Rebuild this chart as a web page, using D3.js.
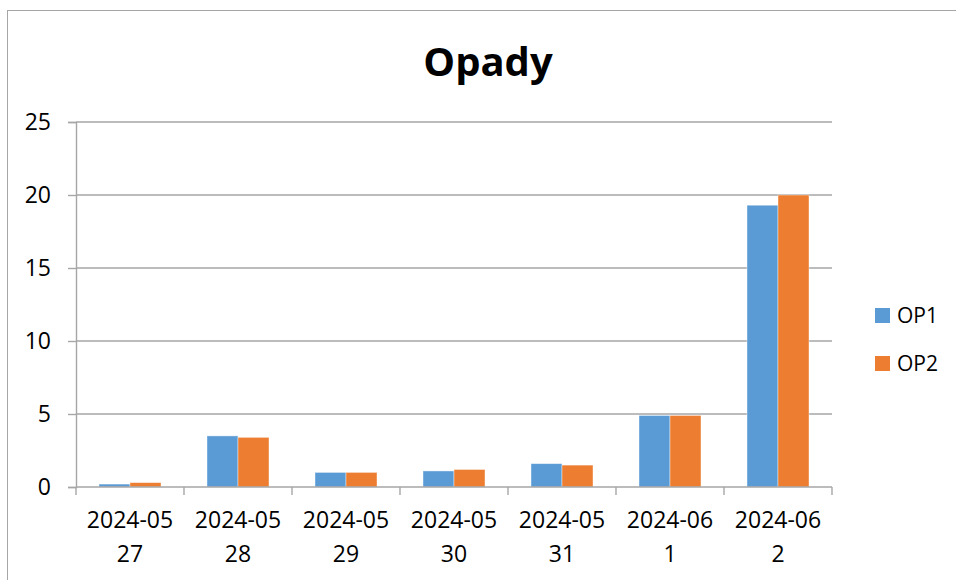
<!DOCTYPE html>
<html>
<head>
<meta charset="utf-8">
<script src="https://cdn.jsdelivr.net/npm/d3@7"></script>
<style>
  body { margin: 0; background: #fff; }
  svg { display: block; font-family: "Open Sans", "Noto Sans", sans-serif; }
</style>
</head>
<body>
<script>
// data
var categories = ["2024-05 27", "2024-05 28", "2024-05 29", "2024-05 30", "2024-05 31", "2024-06 1", "2024-06 2"];
var seriesNames = ["OP1", "OP2"];
var op1 = [0.2, 3.5, 1.0, 1.1, 1.6, 4.9, 19.3];
var op2 = [0.3, 3.4, 1.0, 1.2, 1.5, 4.9, 20.0];
var yTicks = [0, 5, 10, 15, 20, 25];
var colors = ["#5b9bd5", "#ed7d31"];

var width = 956, height = 580;
var grid = "#a6a6a6";
var gridW = 1.4;

var svg = d3.select("body").append("svg")
    .attr("width", width)
    .attr("height", height);

// chart frame (runs off the right and bottom edge)
svg.append("rect")
    .attr("x", 7.5).attr("y", 10.5)
    .attr("width", 1000).attr("height", 1000)
    .attr("fill", "none")
    .attr("stroke", grid);

svg.append("text")
    .attr("x", 488).attr("y", 76)
    .attr("text-anchor", "middle")
    .style("font-size", "40px")
    .style("font-weight", "bold")
    .text("Opady");

var plot = { left: 76, right: 832, top: 122, bottom: 487 };

var y = d3.scaleLinear().domain([0, 25]).range([plot.bottom, plot.top]);
var x0 = d3.scaleBand().domain(categories).range([plot.left, plot.right]).padding(0);
var x1 = d3.scaleBand().domain(seriesNames).range([0, x0.bandwidth()])
    .paddingInner(0).paddingOuter(0.742);

// gridlines
svg.append("g").selectAll("line")
    .data(yTicks.filter(function(d) { return d > 0; }))
  .enter().append("line")
    .attr("x1", plot.left).attr("x2", plot.right)
    .attr("y1", function(d) { return y(d); })
    .attr("y2", function(d) { return y(d); })
    .attr("stroke", grid)
    .attr("stroke-width", gridW);

// bars
var rows = categories.map(function(c, i) { return { cat: c, vals: [op1[i], op2[i]] }; });
svg.append("g").selectAll("g")
    .data(rows)
  .enter().append("g")
    .attr("transform", function(d) { return "translate(" + x0(d.cat) + ",0)"; })
  .selectAll("rect")
    .data(function(d) { return d.vals.map(function(v, j) { return { name: seriesNames[j], v: v, j: j }; }); })
  .enter().append("rect")
    .attr("x", function(d) { return x1(d.name); })
    .attr("width", x1.bandwidth())
    .attr("y", function(d) { return y(d.v); })
    .attr("height", function(d) { return plot.bottom - y(d.v); })
    .attr("fill", function(d) { return colors[d.j]; })
    .attr("stroke", "#fff")
    .attr("stroke-opacity", 0.5)
    .attr("stroke-width", 0.8);

// y axis
var yAxis = svg.append("g")
    .attr("transform", "translate(" + plot.left + ",0)")
    .call(d3.axisLeft(y).tickValues(yTicks).tickSize(8).tickPadding(17));
yAxis.select(".domain").attr("stroke", grid).attr("stroke-width", gridW);
yAxis.selectAll(".tick line").attr("stroke", grid).attr("stroke-width", gridW);
yAxis.selectAll(".tick text")
    .style("font-size", "23px")
    .style("font-family", "'Open Sans', sans-serif")
    .attr("fill", "#000");

// x axis: ticks at category boundaries
var xg = svg.append("g").attr("transform", "translate(0," + plot.bottom + ")");
xg.append("line")
    .attr("x1", plot.left).attr("x2", plot.right)
    .attr("stroke", grid)
    .attr("stroke-width", gridW);
xg.selectAll(".xtick")
    .data(categories.concat(["end"]))
  .enter().append("line")
    .attr("class", "xtick")
    .attr("x1", function(d, i) { return plot.left + i * x0.step(); })
    .attr("x2", function(d, i) { return plot.left + i * x0.step(); })
    .attr("y1", 0).attr("y2", 8)
    .attr("stroke", grid)
    .attr("stroke-width", gridW);

var labels = xg.selectAll(".xlab")
    .data(categories)
  .enter().append("text")
    .attr("class", "xlab")
    .attr("text-anchor", "middle")
    .style("font-size", "23px");
labels.selectAll("tspan")
    .data(function(d) {
      var cx = x0(d) + x0.bandwidth() / 2;
      return d.split(" ").map(function(s, k) { return { s: s, k: k, cx: cx }; });
    })
  .enter().append("tspan")
    .attr("x", function(d) { return d.cx; })
    .attr("y", function(d) { return 41 + d.k * 34; })
    .text(function(d) { return d.s; });

// legend
var legend = svg.append("g").selectAll("g")
    .data(seriesNames)
  .enter().append("g")
    .attr("transform", function(d, i) { return "translate(875," + (308 + i * 48) + ")"; });
legend.append("rect")
    .attr("width", 15).attr("height", 15)
    .attr("fill", function(d, i) { return colors[i]; });
legend.append("text")
    .attr("x", 22).attr("y", 15)
    .style("font-size", "21px")
    .text(function(d) { return d; });
</script>
</body>
</html>
